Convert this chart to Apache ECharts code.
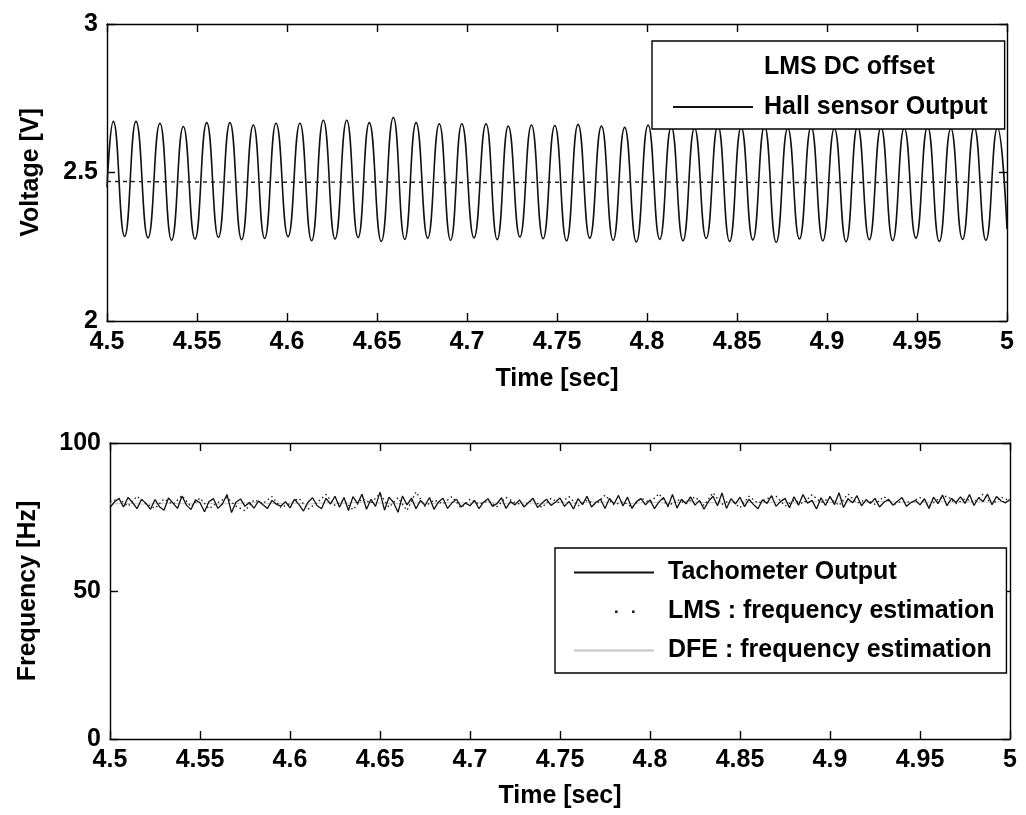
<!DOCTYPE html>
<html>
<head>
<meta charset="utf-8">
<script src="https://cdn.jsdelivr.net/npm/echarts@6/dist/echarts.min.js"></script>
<style>
  html, body { margin: 0; padding: 0; background: #ffffff; }
  #chart { width: 1026px; height: 815px; }
</style>
</head>
<body>
<div id="chart"></div>
<script>
// ---- Axis ticks ----
const timeTicks = [4.5, 4.55, 4.6, 4.65, 4.7, 4.75, 4.8, 4.85, 4.9, 4.95, 5];
const voltTicks = [2, 2.5, 3];
const freqTicks = [0, 50, 100];

// ---- Upper panel: Hall sensor output (peaks and troughs of the waveform) ----
const hallPeakTime = [4.5035, 4.5161, 4.5294, 4.5424, 4.5554, 4.5683, 4.5813, 4.5939, 4.6072, 4.6202,
  4.6332, 4.6457, 4.6591, 4.6717, 4.6846, 4.6971, 4.7106, 4.7229, 4.7358, 4.7488,
  4.7617, 4.7747, 4.7876, 4.8006, 4.8135, 4.8264, 4.8394, 4.8523, 4.8653, 4.8782,
  4.8912, 4.9041, 4.9170, 4.9300, 4.9429, 4.9559, 4.9688, 4.9818, 4.9947];
const hallPeakVolt = [2.672, 2.672, 2.666, 2.655, 2.668, 2.668, 2.660, 2.666, 2.666, 2.676,
  2.676, 2.668, 2.685, 2.668, 2.664, 2.664, 2.664, 2.656, 2.660, 2.658,
  2.662, 2.656, 2.652, 2.660, 2.654, 2.650, 2.658, 2.652, 2.656, 2.650,
  2.654, 2.648, 2.656, 2.652, 2.650, 2.655, 2.648, 2.652, 2.650];
const hallTroughTime = [4.5098, 4.5228, 4.5359, 4.5489, 4.5619, 4.5748, 4.5876, 4.6006, 4.6137, 4.6267,
  4.6395, 4.6524, 4.6654, 4.6782, 4.6909, 4.7039, 4.7168, 4.7294, 4.7423, 4.7553,
  4.7682, 4.7812, 4.7941, 4.8071, 4.8200, 4.8329, 4.8459, 4.8588, 4.8718, 4.8847,
  4.8977, 4.9106, 4.9235, 4.9365, 4.9494, 4.9624, 4.9753, 4.9883];
const hallTroughVolt = [2.285, 2.280, 2.272, 2.276, 2.282, 2.274, 2.278, 2.284, 2.270, 2.276,
  2.281, 2.268, 2.275, 2.279, 2.272, 2.280, 2.274, 2.283, 2.277, 2.270,
  2.279, 2.272, 2.266, 2.275, 2.270, 2.278, 2.268, 2.273, 2.265, 2.276,
  2.270, 2.267, 2.274, 2.271, 2.279, 2.268, 2.275, 2.272];
const hallEdgeTime = [4.5, 5.0];
const hallEdgeVolt = [2.45, 2.31];

// ---- Upper panel: LMS DC offset estimate ----
const dcTime = [4.5, 4.55, 4.6, 4.65, 4.7, 4.75, 4.8, 4.85, 4.9, 4.95, 5];
const dcVolt = [2.470, 2.468, 2.467, 2.468, 2.466, 2.467, 2.468, 2.467, 2.466, 2.467, 2.467];

// ---- Lower panel: tachometer output, sampled every 2.5 ms from 4.5 s ----
const tachStart = 4.5, tachStep = 0.0025;
const tachHz = [
  78.2, 80.1, 81.3, 78.4, 81.6, 79.9, 77.8, 81.0, 79.6, 77.6,
  80.9, 78.5, 77.3, 81.4, 79.7, 77.9, 82.1, 79.0, 77.5, 80.8,
  79.8, 76.8, 80.2, 81.2, 77.9, 79.5, 82.6, 76.5, 80.0, 81.1,
  78.6, 79.9, 78.0, 80.4, 79.1, 77.9, 80.6, 79.3, 78.7, 80.2,
  78.1, 81.0, 79.2, 77.0, 80.0, 81.5, 78.9, 77.8, 81.3, 79.4,
  82.0, 78.3, 81.6, 77.2, 81.9, 79.5, 82.7, 77.6, 81.0, 78.6,
  83.4, 77.3, 81.7, 79.9, 76.6, 82.1, 79.1, 81.4, 77.8, 80.6,
  78.9, 81.6, 77.6, 80.1, 81.3, 77.9, 79.8, 81.0, 78.4, 79.7,
  78.8, 80.6, 77.8, 80.0, 81.2, 78.6, 79.5, 81.5, 77.9, 80.2,
  79.1, 80.8, 78.4, 79.9, 81.3, 78.2, 79.7, 81.0, 78.9, 80.1,
  81.4, 78.6, 80.3, 77.7, 81.2, 79.2, 82.0, 78.4, 80.0, 81.0,
  77.9, 81.3, 79.4, 82.3, 78.7, 81.7, 77.9, 80.2, 81.2, 79.1,
  80.8, 77.8, 80.1, 81.6, 78.6, 82.6, 78.0, 81.0, 79.5, 81.8,
  79.0, 80.6, 77.6, 80.3, 82.0, 78.8, 83.1, 77.9, 81.2, 79.4,
  81.7, 78.5, 81.0, 79.2, 77.8, 80.8, 79.6, 82.2, 78.6, 80.2,
  81.3, 78.1, 81.8, 79.0, 82.6, 79.7, 80.6, 77.7, 81.5, 78.9,
  82.0, 79.2, 83.2, 78.2, 81.2, 79.8, 82.2, 78.8, 80.8, 79.6,
  81.3, 78.4, 80.0, 81.0, 79.0, 80.3, 81.6, 78.6, 79.9, 80.6,
  79.1, 81.2, 77.9, 81.7, 79.5, 82.4, 78.8, 81.3, 79.9, 81.8,
  79.6, 82.6, 78.9, 81.5, 80.2, 82.7, 79.2, 81.9, 80.5, 79.8,
  80.9
];

// ---- Lower panel: LMS frequency estimate, every 5 ms ----
const lmsStart = 4.5, lmsStep = 0.005;
const lmsHz = [
  80.1, 81.2, 78.6, 82.0, 79.5, 77.9, 81.1, 79.3, 82.2, 78.5,
  81.4, 77.8, 79.9, 81.6, 78.7, 77.1, 80.8, 79.6, 81.9, 78.2,
  79.5, 81.3, 77.6, 79.9, 82.6, 78.9, 80.6, 77.4, 81.2, 79.7,
  82.9, 78.3, 81.5, 77.2, 83.5, 78.6, 80.7, 79.5, 81.9, 78.1,
  81.0, 79.3, 80.5, 78.5, 81.6, 79.9, 78.9, 80.9, 78.2, 81.3,
  79.7, 81.9, 78.7, 80.6, 79.3, 82.4, 79.1, 80.2, 78.3, 81.4,
  79.9, 82.9, 78.5, 81.0, 79.5, 81.8, 78.9, 83.2, 79.3, 80.8,
  78.1, 82.0, 79.7, 81.2, 82.1, 78.7, 80.6, 79.5, 82.5, 79.9,
  81.4, 78.9, 82.8, 79.7, 80.9, 79.3, 81.9, 79.1, 80.4, 79.9,
  81.6, 78.7, 81.0, 82.1, 79.5, 81.2, 79.9, 82.7, 79.3, 81.7,
  80.5
];

// ---- Lower panel: DFE frequency estimate, every 10 ms ----
const dfeStart = 4.5, dfeStep = 0.01;
const dfeHz = [
  79.4, 79.6, 79.3, 79.7, 79.5, 79.8, 79.4, 79.6, 79.9, 79.5,
  79.7, 79.4, 79.8, 79.6, 80.0, 79.7, 79.5, 79.8, 79.6, 79.9,
  79.7, 80.0, 79.6, 79.8, 79.5, 79.9, 79.7, 80.1, 79.8, 79.6,
  80.0, 79.7, 80.2, 79.9, 79.7, 80.1, 79.8, 80.0, 79.7, 80.2,
  79.9, 80.1, 79.8, 80.3, 80.0, 79.8, 80.2, 79.9, 80.1, 80.0,
  80.2
];

// ---- Build [x, y] pairs ----
function zipPairs(xs, ys) { return xs.map((x, i) => [x, ys[i]]); }
function sampled(t0, dt, ys) { return ys.map((y, i) => [+(t0 + i * dt).toFixed(4), y]); }

const hallData = zipPairs(hallPeakTime, hallPeakVolt)
  .concat(zipPairs(hallTroughTime, hallTroughVolt))
  .concat(zipPairs(hallEdgeTime, hallEdgeVolt))
  .sort((a, b) => a[0] - b[0]);
const dcData = zipPairs(dcTime, dcVolt);
const tachData = sampled(tachStart, tachStep, tachHz);
const lmsData = sampled(lmsStart, lmsStep, lmsHz);
const dfeData = sampled(dfeStart, dfeStep, dfeHz);

// ---- Styling helpers ----
const FONT = 'Liberation Sans, Arial, Helvetica, sans-serif';
const INK = '#000000';
const tickFmt = (digits) => (v) => String(+(+v).toFixed(digits));
const step = (arr) => +(arr[1] - arr[0]).toFixed(4);

function frameAxis(gridIndex, position, ticks, showLabels, digits, extra) {
  return Object.assign({
    type: 'value',
    gridIndex: gridIndex,
    position: position,
    min: ticks[0],
    max: ticks[ticks.length - 1],
    interval: step(ticks),
    splitLine: { show: false },
    axisLine: { show: true, onZero: false, lineStyle: { color: INK, width: 1.4 } },
    axisTick: { show: true, inside: true, length: 8, lineStyle: { color: INK, width: 1.4 } },
    axisLabel: {
      show: showLabels,
      color: INK,
      fontFamily: FONT,
      fontWeight: 'bold',
      fontSize: 25,
      margin: 9,
      formatter: tickFmt(digits),
      showMinLabel: true,
      showMaxLabel: true
    }
  }, extra || {});
}

const nameStyle = { color: INK, fontFamily: FONT, fontWeight: 'bold', fontSize: 25 };

const legendText = (padLeft, lineHeight) => ({
  color: INK, fontFamily: FONT, fontWeight: 'bold', fontSize: 25,
  lineHeight: lineHeight, padding: [0, 0, 0, padLeft]
});

// legend samples show the line only, no marker
const lineOnly = { opacity: 0 };
// two small dots drawn inside an 80x14 legend sample box
const dotPairIcon = 'path://M0,0h0.01v0.01h-0.01zM41,6h2.6v2.6h-2.6zM58,6h2.6v2.6h-2.6zM79.99,13.99h0.01v0.01h-0.01z';

const chart = echarts.init(document.getElementById('chart'), null, { renderer: 'canvas' });

chart.setOption({
  backgroundColor: '#ffffff',
  animation: false,
  grid: [
    { left: 107, top: 24, width: 900, height: 297 },
    { left: 110, top: 443, width: 900, height: 296 }
  ],
  xAxis: [
    frameAxis(0, 'bottom', timeTicks, true, 2, {
      name: 'Time [sec]', nameLocation: 'middle', nameGap: 46, nameTextStyle: nameStyle
    }),
    frameAxis(0, 'top', timeTicks, false, 2),
    frameAxis(1, 'bottom', timeTicks, true, 2, {
      name: 'Time [sec]', nameLocation: 'middle', nameGap: 45, nameTextStyle: nameStyle
    }),
    frameAxis(1, 'top', timeTicks, false, 2)
  ],
  yAxis: [
    frameAxis(0, 'left', voltTicks, true, 1, {
      name: 'Voltage [V]', nameLocation: 'middle', nameGap: 63, nameTextStyle: nameStyle
    }),
    frameAxis(0, 'right', voltTicks, false, 1),
    frameAxis(1, 'left', freqTicks, true, 0, {
      name: 'Frequency [Hz]', nameLocation: 'middle', nameGap: 69, nameTextStyle: nameStyle
    }),
    frameAxis(1, 'right', freqTicks, false, 0)
  ],
  legend: [
    {
      left: 652, top: 41,
      orient: 'vertical',
      align: 'left',
      backgroundColor: '#ffffff',
      borderColor: INK, borderWidth: 1.4, borderRadius: 0,
      padding: [12, 17, 8, 20],
      itemWidth: 80, itemHeight: 14, itemGap: 12,
      selectedMode: false,
      textStyle: legendText(6, 28),
      data: [
        { name: 'LMS DC offset', itemStyle: lineOnly, lineStyle: { opacity: 0 } },
        { name: 'Hall sensor Output', itemStyle: lineOnly }
      ]
    },
    {
      left: 555, top: 548,
      orient: 'vertical',
      align: 'left',
      backgroundColor: '#ffffff',
      borderColor: INK, borderWidth: 1.4, borderRadius: 0,
      padding: [11, 12, 9, 18],
      itemWidth: 80, itemHeight: 14, itemGap: 12,
      selectedMode: false,
      textStyle: legendText(9, 27),
      data: [
        { name: 'Tachometer Output', itemStyle: lineOnly },
        { name: 'LMS : frequency estimation', icon: dotPairIcon },
        { name: 'DFE : frequency estimation', itemStyle: lineOnly }
      ]
    }
  ],
  series: [
    {
      name: 'LMS DC offset',
      type: 'line',
      xAxisIndex: 0, yAxisIndex: 0,
      data: dcData,
      symbol: 'none',
      lineStyle: { color: '#222222', width: 1.4, type: [4, 4] },
      itemStyle: { color: '#222222' },
      z: 3
    },
    {
      name: 'Hall sensor Output',
      type: 'line',
      xAxisIndex: 0, yAxisIndex: 0,
      data: hallData,
      symbol: 'none',
      smooth: 0.5,
      smoothMonotone: 'x',
      lineStyle: { color: '#111111', width: 1.6 },
      itemStyle: { color: '#111111' },
      z: 2
    },
    {
      name: 'DFE : frequency estimation',
      type: 'line',
      xAxisIndex: 2, yAxisIndex: 2,
      data: dfeData,
      symbol: 'none',
      lineStyle: { color: '#c4c4c4', width: 1 },
      itemStyle: { color: '#c4c4c4' },
      z: 1
    },
    {
      name: 'Tachometer Output',
      type: 'line',
      xAxisIndex: 2, yAxisIndex: 2,
      data: tachData,
      symbol: 'none',
      lineStyle: { color: '#111111', width: 1.3 },
      itemStyle: { color: '#111111' },
      z: 2
    },
    {
      name: 'LMS : frequency estimation',
      type: 'line',
      xAxisIndex: 2, yAxisIndex: 2,
      data: lmsData,
      symbol: 'none',
      lineStyle: { color: '#222222', width: 1.4, type: [1.5, 3] },
      itemStyle: { color: '#222222' },
      z: 3
    }
  ]
});
</script>
</body>
</html>
